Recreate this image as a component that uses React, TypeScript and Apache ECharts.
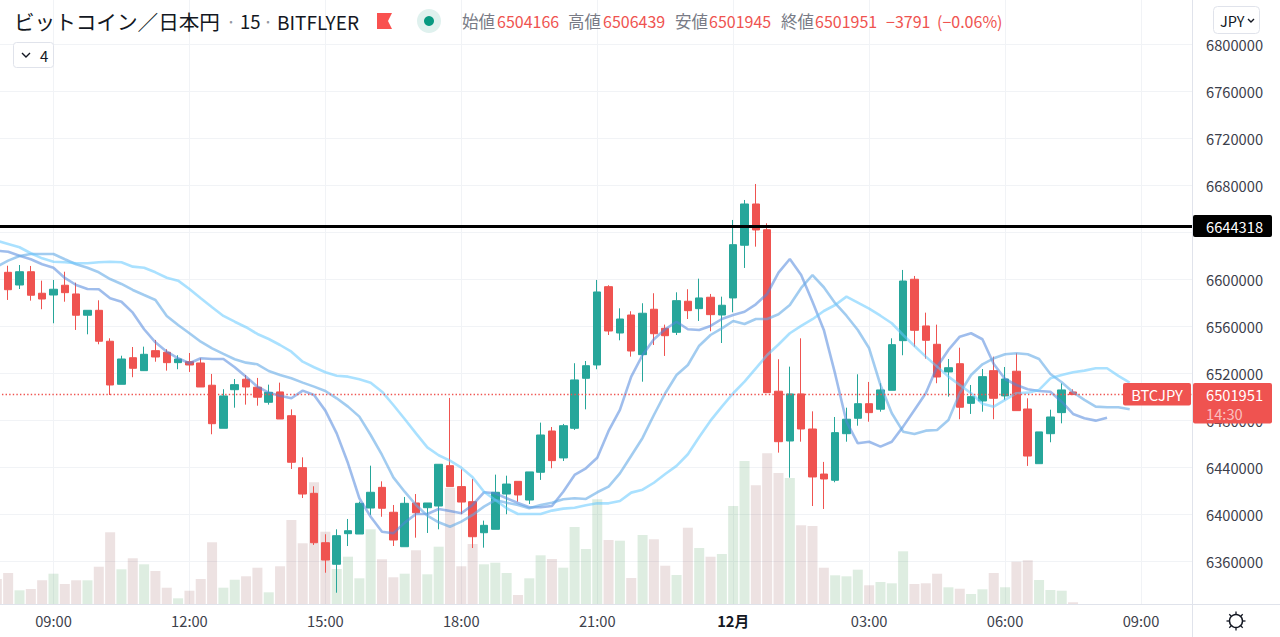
import React, { useEffect, useRef } from "react";
import * as echarts from "echarts";

// [open, close, low, high] in thousands of yen, one row per 15-minute bar, starting at 08:00
const candles: number[][] = [
  [6605.9, 6591.1, 6582.4, 6611.5], [6595.1, 6606.4, 6591.7, 6612.1], [6606.4, 6586.4, 6581.8, 6611.3], [6588.1, 6583.2, 6574.5, 6598.8],
  [6586.6, 6591.5, 6562.6, 6599.4], [6594.9, 6588.6, 6580.9, 6606.4], [6587.5, 6569.4, 6556.9, 6597.1], [6569.4, 6573.6, 6553.2, 6573.6],
  [6573.6, 6547.3, 6544.7, 6582.1], [6547.3, 6510.1, 6501.6, 6549.8], [6510.7, 6532.2, 6510.7, 6535.0], [6533.3, 6524.3, 6516.7, 6542.4],
  [6522.3, 6536.2, 6522.0, 6542.7], [6539.3, 6533.9, 6529.9, 6548.4], [6537.9, 6529.1, 6522.3, 6540.5], [6529.1, 6532.2, 6523.5, 6535.4],
  [6529.9, 6527.1, 6521.2, 6537.3], [6528.8, 6508.4, 6508.4, 6532.8], [6509.9, 6477.2, 6468.2, 6519.5], [6473.3, 6500.8, 6473.3, 6506.5],
  [6506.1, 6510.4, 6490.8, 6515.2], [6515.0, 6508.4, 6493.4, 6518.6], [6508.2, 6499.7, 6492.5, 6516.1], [6495.4, 6503.9, 6493.4, 6510.4],
  [6504.2, 6481.2, 6481.2, 6512.1], [6484.0, 6444.4, 6438.7, 6489.4], [6439.8, 6417.4, 6414.0, 6448.6], [6418.0, 6376.0, 6374.1, 6424.0],
  [6376.0, 6361.3, 6350.5, 6383.2], [6357.7, 6382.0, 6333.5, 6387.4], [6383.7, 6386.2, 6373.2, 6396.2], [6383.4, 6409.5, 6383.4, 6410.9],
  [6405.5, 6418.9, 6399.6, 6441.5], [6423.1, 6405.3, 6398.1, 6428.2], [6401.9, 6378.3, 6373.2, 6408.1], [6372.6, 6409.5, 6372.6, 6414.9],
  [6409.8, 6401.5, 6380.3, 6417.4], [6405.8, 6409.8, 6384.3, 6409.8], [6407.2, 6442.7, 6387.4, 6442.7], [6441.5, 6423.7, 6423.7, 6499.1],
  [6423.7, 6410.6, 6400.2, 6438.4], [6410.9, 6381.1, 6371.5, 6430.2], [6384.5, 6390.8, 6371.8, 6394.8], [6387.4, 6418.9, 6387.4, 6433.9],
  [6417.4, 6425.9, 6400.2, 6433.0], [6428.2, 6416.6, 6410.9, 6428.2], [6412.3, 6436.2, 6408.9, 6436.2], [6435.9, 6467.6, 6429.4, 6478.1],
  [6471.0, 6445.8, 6439.3, 6474.4], [6448.1, 6475.5, 6445.5, 6477.0], [6473.3, 6514.4, 6471.9, 6528.6], [6515.8, 6526.5, 6489.4, 6530.5],
  [6527.1, 6589.2, 6523.5, 6599.4], [6593.7, 6556.0, 6552.6, 6594.9], [6554.3, 6566.2, 6548.1, 6575.3], [6569.6, 6539.0, 6534.2, 6572.8],
  [6535.9, 6571.1, 6512.9, 6579.6], [6574.5, 6553.7, 6544.1, 6588.1], [6558.3, 6552.0, 6534.8, 6561.4], [6554.9, 6581.8, 6552.6, 6588.9],
  [6581.3, 6573.3, 6566.2, 6591.5], [6575.0, 6584.1, 6564.5, 6600.5], [6584.7, 6569.9, 6555.8, 6587.5], [6569.6, 6577.9, 6545.8, 6585.2],
  [6584.1, 6629.4, 6571.9, 6650.4], [6628.9, 6664.0, 6609.6, 6667.4], [6664.0, 6641.9, 6627.7, 6681.0], [6642.1, 6503.6, 6503.6, 6647.6],
  [6504.8, 6461.9, 6452.6, 6532.0], [6462.5, 6502.5, 6431.3, 6525.7], [6502.5, 6472.7, 6461.9, 6549.8], [6472.7, 6431.9, 6407.2, 6487.7],
  [6434.4, 6430.2, 6404.7, 6444.7], [6429.1, 6469.6, 6427.4, 6482.9], [6468.7, 6481.0, 6461.9, 6490.8], [6481.8, 6494.2, 6475.5, 6519.2],
  [6494.2, 6486.6, 6478.9, 6512.7], [6489.5, 6505.9, 6487.4, 6511.6], [6505.6, 6544.4, 6505.6, 6549.8], [6547.8, 6598.5, 6535.4, 6607.9],
  [6600.0, 6556.6, 6542.7, 6602.8], [6560.3, 6548.1, 6532.5, 6571.6], [6544.7, 6516.9, 6511.6, 6561.4], [6521.2, 6524.8, 6500.2, 6532.2],
  [6528.2, 6491.2, 6481.0, 6541.8], [6494.5, 6500.2, 6485.5, 6510.1], [6496.5, 6517.2, 6487.4, 6523.7], [6522.3, 6498.8, 6481.0, 6534.2],
  [6500.8, 6515.2, 6497.4, 6525.4], [6521.8, 6488.3, 6488.3, 6537.1], [6489.7, 6449.7, 6441.3, 6498.8], [6443.2, 6470.2, 6443.2, 6470.2],
  [6468.7, 6482.9, 6461.4, 6489.1], [6486.6, 6505.9, 6477.5, 6511.6], [6504.166, 6501.951, 6501.945, 6506.439],
];

// Volume, starting one bar earlier than the candles (07:45)
const volumes = [25, 31, 13.7, 15, 23.7, 30.3, 20, 23.7, 23.7, 37.3, 71.7, 34.7, 45.7, 39.7, 33, 16.3, 5.7, 13.3, 25, 61.7, 16.3, 24.3, 27.7, 36.3, 11.7, 37.7, 84, 60.7, 121.7, 72.3, 35, 47.3, 25.7, 74.7, 44.7, 26.7, 30.3, 53.7, 29.7, 57.3, 116, 37.7, 60, 39.7, 41.3, 31, 9, 25.7, 48.7, 45, 36.3, 77, 55, 104.7, 64, 63.3, 26, 69, 64.7, 38.3, 29, 76.3, 56, 47.3, 50, 98, 143, 118.7, 150.7, 131, 126, 78.7, 78, 36.3, 28.7, 27.7, 34.3, 18.7, 22, 20.7, 52.7, 20, 20.7, 30.3, 16.7, 15.3, 10, 14.7, 31, 16.7, 42.3, 43.7, 24, 14, 13.3, 1.7];

// Moving averages (thousands of yen), starting at 07:45
const lineFast = [6624.3, 6623.4, 6620, 6617, 6612.7, 6609.8, 6601.1, 6595.1, 6591.7, 6591.5, 6583.8, 6580.9, 6571.6, 6557.5, 6546.4, 6538.4, 6532.8, 6528.6, 6532.8, 6532.2, 6532.2, 6525.2, 6517.2, 6508.7, 6503.6, 6501, 6498.8, 6505.3, 6501.6, 6488.3, 6469, 6443.5, 6413.8, 6398.1, 6385.4, 6384, 6393.1, 6400.4, 6400.4, 6404.7, 6403, 6401, 6408.1, 6418.9, 6418, 6413.8, 6409.8, 6406.1, 6406.1, 6407.2, 6419.4, 6433.6, 6439.3, 6448.3, 6471, 6488.9, 6517.2, 6535.6, 6549, 6557.5, 6563.9, 6557.5, 6556.9, 6560.3, 6566.2, 6569.6, 6572.4, 6578.7, 6587.5, 6605.6, 6617.2, 6603.6, 6580.9, 6556.9, 6519.5, 6478.9, 6460.5, 6461.9, 6457.7, 6461.9, 6474.7, 6488.9, 6503.1, 6525.7, 6539.9, 6551.2, 6554.1, 6549, 6528, 6515.2, 6510.1, 6506.5, 6505, 6504.4, 6495.9, 6485.5, 6481.8, 6479.8, 6482.3];
const lineMid = [6610.7, 6615.8, 6619.8, 6621.5, 6621.5, 6621.5, 6617, 6612.7, 6609.8, 6605.9, 6600.2, 6596, 6590.9, 6586.6, 6582.4, 6568.8, 6561.1, 6554.1, 6546.9, 6541.3, 6536.5, 6532, 6529.1, 6527.7, 6522, 6518.6, 6515.8, 6512.1, 6508.7, 6505, 6498.8, 6491.7, 6483.2, 6467.6, 6450.6, 6431.6, 6419.4, 6408.1, 6399, 6393.4, 6389.6, 6393.9, 6399.6, 6406.7, 6412.3, 6410, 6408.1, 6405.3, 6408.1, 6410, 6412.9, 6413.8, 6413.2, 6418.9, 6423.7, 6435, 6450, 6465.1, 6484.6, 6503.1, 6518.6, 6527.1, 6543.5, 6552.6, 6558.3, 6564.5, 6562, 6566.2, 6566.2, 6570.2, 6578.1, 6592.6, 6603.6, 6593.2, 6579.6, 6569, 6556.9, 6541.3, 6510.1, 6486.1, 6470.4, 6468.5, 6471.3, 6471.9, 6480.4, 6503.1, 6518.6, 6527.7, 6532.8, 6536.2, 6537.1, 6536.2, 6532.2, 6519.5, 6512.4, 6503.9, 6497.4, 6491.7, 6491.2, 6491.2, 6489.4];
const lineSlow = [6632.8, 6630, 6627.2, 6622.1, 6617.8, 6614.9, 6614.4, 6613.6, 6613.6, 6614.4, 6614.9, 6614.4, 6610.7, 6609.8, 6605.9, 6601.3, 6598.8, 6591.7, 6583.8, 6576.2, 6568.8, 6563.9, 6559.2, 6553.5, 6549.2, 6544.1, 6538.4, 6529.9, 6525.2, 6520.9, 6518, 6517.2, 6515, 6512.1, 6504.4, 6493.1, 6481.2, 6469, 6457.1, 6450.4, 6445.8, 6439.8, 6431.6, 6419.4, 6412.3, 6405.3, 6400.4, 6400.4, 6400.4, 6403.3, 6405, 6405.8, 6407.8, 6409.5, 6409.5, 6411.5, 6418.6, 6421.1, 6427, 6434.4, 6441.3, 6451.2, 6465.9, 6479.8, 6491.7, 6503.1, 6512.9, 6524.3, 6535.6, 6544.5, 6554.1, 6560.3, 6566, 6573, 6578.1, 6585.2, 6580.1, 6575, 6569, 6562.6, 6552.6, 6543.3, 6534.2, 6525.7, 6517.2, 6510.1, 6503.1, 6494.2, 6491.7, 6497.4, 6503.1, 6503.6, 6505.9, 6515.8, 6518.6, 6520.9, 6522.3, 6524.3, 6524.3, 6517.8, 6512.1];

const BAR_COUNT = 106;
const FIRST_MINUTES = 7 * 60 + 45; // first (cut off) bar is 07:45
const HORIZONTAL_LINE = 6644318; // the printed tag
const HORIZONTAL_LINE_LEVEL = 6645400; // where the drawn line reads on the scale
const LAST_PRICE = 6501951;
const HIDDEN_TICK = 6640000; // covered by the horizontal line's tag
const Y_STEP = 40000;
const Y_MIN = 6320000;
const Y_MAX = 6840000;
const BLEED = 20; // the canvas overhangs the page so that bars and ticks can be cut off at the edge

const RED = "#ef5350";
const GREEN = "#26a69a";
const AXIS_TEXT = "#3c404b";
const GRID = "#f1f3f6";
const BORDER = "#e0e3eb";
const FONT = '"Noto Sans CJK JP", "Noto Sans", sans-serif';

const pad = (n: number) => String(n).padStart(2, "0");
const categories = Array.from({ length: BAR_COUNT }, (_, i) => {
  const m = (FIRST_MINUTES + i * 15) % 1440;
  return `${pad(Math.floor(m / 60))}:${pad(m % 60)}`;
});
const isLabelled = (i: number) => (FIRST_MINUTES + i * 15) % 180 === 0;

const candleData = [
  "-",
  ...candles.map((r) => r.map((v) => Math.round(v * 1000))),
];
const volumeData = volumes.map((v, i) => {
  const row = candles[i - 1];
  const up = row ? row[1] >= row[0] : false;
  return {
    value: v,
    itemStyle: { color: up ? "rgba(50,140,70,0.16)" : "rgba(130,50,50,0.14)" },
  };
});
const toYen = (a: number[]) => a.map((v) => Math.round(v * 1000));

function text(x: number, y: number, t: string, fill: string, size: number, extra: any = {}) {
  return {
    type: "text",
    x,
    y,
    z: 100,
    silent: true,
    style: {
      text: t,
      fill,
      font: `${extra.weight || "normal"} ${size}px ${FONT}`,
      align: extra.align || "left",
      verticalAlign: "middle",
      opacity: extra.opacity ?? 1,
    },
  };
}

function buildGraphics() {
  const els: any[] = [];
  // frame
  els.push({ type: "line", z: 90, shape: { x1: 0, y1: 604.5, x2: 1280, y2: 604.5 }, style: { stroke: BORDER, lineWidth: 1 } });
  els.push({ type: "line", z: 90, shape: { x1: 1192.5, y1: 0, x2: 1192.5, y2: 637 }, style: { stroke: BORDER, lineWidth: 1 } });

  // header
  els.push(text(14, 21, "ビットコイン／日本円", "#131722", 20.6));
  els.push(text(226, 21, "·", "#9598a1", 18));
  els.push(text(240, 21, "15", "#131722", 18.5));
  els.push(text(263, 21, "·", "#9598a1", 18));
  els.push(text(277, 21, "BITFLYER", "#131722", 19));
  els.push({ type: "polygon", z: 100, shape: { points: [[377, 13], [392, 13], [388, 21], [392, 29], [377, 29]] }, style: { fill: "#f9514f" } });
  els.push({ type: "ellipse", z: 100, shape: { cx: 429, cy: 21, rx: 12, ry: 12 }, style: { fill: "#dff1ee" } });
  els.push({ type: "circle", z: 101, shape: { cx: 429, cy: 21, r: 5 }, style: { fill: "#089981" } });

  const labelGrey = "#787b86";
  const pairs: [number, string, number, string][] = [
    [462, "始値", 497, "6504166"],
    [568, "高値", 603, "6506439"],
    [675, "安値", 709, "6501945"],
    [781, "終値", 815, "6501951"],
  ];
  pairs.forEach(([lx, l, vx, v]) => {
    els.push(text(lx, 21, l, labelGrey, 16.5));
    els.push(text(vx, 21, v, RED, 16));
  });
  els.push(text(886, 21, "−3791", RED, 16));
  els.push(text(937, 21, "(−0.06%)", RED, 16));

  // collapse button
  els.push({ type: "rect", z: 100, shape: { x: 13.5, y: 42.5, width: 40, height: 25, r: 3 }, style: { fill: "#fff", stroke: BORDER, lineWidth: 1 } });
  els.push({ type: "polyline", z: 101, shape: { points: [[22, 53], [26, 57], [30, 53]] }, style: { fill: "none", stroke: "#131722", lineWidth: 1.4 } });
  els.push(text(40, 55, "4", "#131722", 15));

  // currency button
  els.push({ type: "rect", z: 100, shape: { x: 1213.5, y: 6.5, width: 46, height: 27, r: 4 }, style: { fill: "#fff", stroke: BORDER, lineWidth: 1 } });
  els.push(text(1220, 20, "JPY", "#131722", 14.5));
  els.push({ type: "polyline", z: 101, shape: { points: [[1248, 19], [1251, 22], [1254, 19]] }, style: { fill: "none", stroke: "#131722", lineWidth: 1.4 } });

  // price tags
  els.push({ type: "rect", z: 100, shape: { x: 1193, y: 215, width: 79, height: 22, r: 2 }, style: { fill: "#000" } });
  els.push(text(1206, 226, String(HORIZONTAL_LINE), "#fff", 14.7));
  els.push({ type: "rect", z: 100, shape: { x: 1123, y: 383, width: 68, height: 22.5, r: 2 }, style: { fill: RED } });
  els.push(text(1157, 394, "BTCJPY", "#fff", 14.7, { align: "center" }));
  els.push({ type: "rect", z: 100, shape: { x: 1193, y: 383, width: 79, height: 40.5, r: 2 }, style: { fill: RED } });
  els.push(text(1206, 394, String(LAST_PRICE), "#fff", 14.7));
  els.push(text(1206, 413, "14:30", "#fff", 14.7, { opacity: 0.65 }));

  // theme icon
  els.push({ type: "circle", z: 100, shape: { cx: 1236, cy: 621, r: 6.5 }, style: { fill: "none", stroke: "#131722", lineWidth: 1.4 } });
  for (let a = 0; a < 8; a++) {
    const t = (a * Math.PI) / 4;
    els.push({
      type: "line",
      z: 100,
      shape: {
        x1: 1236 + Math.cos(t) * 6.5,
        y1: 621 + Math.sin(t) * 6.5,
        x2: 1236 + Math.cos(t) * 9.5,
        y2: 621 + Math.sin(t) * 9.5,
      },
      style: { stroke: "#131722", lineWidth: 1.3 },
    });
  }
  return [{ type: "group", x: BLEED, y: BLEED, children: els }];
}

const maLine = (name: string, data: number[], color: string, extra: any = {}) => ({
  name,
  type: "line",
  xAxisIndex: 0,
  yAxisIndex: 0,
  data: toYen(data),
  showSymbol: false,
  symbol: "none",
  smooth: false,
  clip: false,
  z: 4,
  lineStyle: { color, width: 2.6 },
  silent: true,
  ...extra,
});

export default function App() {
  const ref = useRef<HTMLDivElement>(null);
  useEffect(() => {
    const chart = echarts.init(ref.current!, undefined, { renderer: "svg" });
    const option: any = {
      animation: false,
      backgroundColor: "#ffffff",
      textStyle: { fontFamily: FONT },
      grid: [
        // price pane: Y_MIN and Y_MAX sit just outside the page
        { left: BLEED - 8.83, right: 88, top: BLEED - 3.05, bottom: 28.4 },
        // volume pane
        { left: BLEED - 8.83, right: 88, top: BLEED, bottom: 33 },
      ],
      xAxis: [
        { type: "category", gridIndex: 0, data: categories, show: false },
        {
          type: "category",
          gridIndex: 1,
          data: categories,
          axisLine: { show: false },
          axisTick: { show: false, alignWithLabel: true },
          axisLabel: {
            interval: (i: number) => isLabelled(i),
            color: AXIS_TEXT,
            fontSize: 14.7,
            fontFamily: FONT,
            margin: 9,
            hideOverlap: false,
            formatter: (v: string) => (v === "00:00" ? "{b|12月}" : v),
            rich: { b: { fontWeight: "bold", fontSize: 14.7, color: "#131722", fontFamily: FONT } },
          },
          splitLine: {
            show: true,
            alignWithLabel: true,
            interval: (i: number) => isLabelled(i),
            lineStyle: { color: GRID, width: 1 },
          },
        },
      ],
      yAxis: [
        {
          type: "value",
          gridIndex: 0,
          position: "right",
          min: Y_MIN,
          max: Y_MAX,
          interval: Y_STEP,
          axisLine: { show: false },
          axisTick: { show: false },
          axisLabel: {
            color: AXIS_TEXT,
            fontSize: 14.7,
            fontFamily: FONT,
            margin: 14,
            padding: [0, 0, 3, 0],
            showMinLabel: false,
            showMaxLabel: false,
            formatter: (v: number) => (v === HIDDEN_TICK ? "" : String(v)),
          },
          splitLine: { show: true, showMinLine: false, showMaxLine: false, lineStyle: { color: GRID, width: 1 } },
        },
        {
          type: "value",
          gridIndex: 1,
          min: 0,
          max: 604,
          show: false,
          splitLine: { show: false },
        },
      ],
      series: [
        {
          name: "出来高",
          type: "bar",
          xAxisIndex: 1,
          yAxisIndex: 1,
          data: volumeData,
          barWidth: 10,
          z: 1,
          silent: true,
        },
        {
          name: "BTCJPY",
          type: "candlestick",
          xAxisIndex: 0,
          yAxisIndex: 0,
          data: candleData,
          barWidth: 8,
          z: 3,
          silent: true,
          itemStyle: {
            color: GREEN,
            color0: RED,
            borderColor: GREEN,
            borderColor0: RED,
            borderWidth: 1,
          },
        },
        maLine("MA1", lineFast, "rgba(80,135,220,0.55)", {
          markLine: {
            silent: true,
            symbol: "none",
            animation: false,
            label: { show: false },
            data: [
              { yAxis: LAST_PRICE, lineStyle: { color: RED, width: 1.4, type: [1.4, 2.2], opacity: 1 } },
              { yAxis: HORIZONTAL_LINE_LEVEL, lineStyle: { color: "#000000", width: 3, type: "solid", opacity: 1 } },
            ],
          },
        }),
        maLine("MA2", lineMid, "rgba(100,170,230,0.6)"),
        maLine("MA3", lineSlow, "rgba(100,200,255,0.55)"),
      ],
      graphic: { elements: buildGraphics() },
    };
    chart.setOption(option);
    return () => chart.dispose();
  }, []);
  return (
    <div style={{ position: "absolute", left: 0, top: 0, width: 1280, height: 637, overflow: "hidden" }}>
      <div
        ref={ref}
        style={{ position: "absolute", left: -BLEED, top: -BLEED, width: 1280 + BLEED, height: 637 + BLEED }}
      />
    </div>
  );
}
